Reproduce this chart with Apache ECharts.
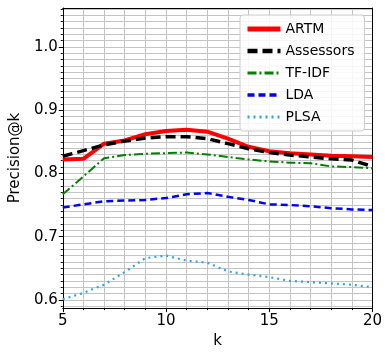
<!DOCTYPE html>
<html>
<head>
<meta charset="utf-8">
<script src="https://cdn.jsdelivr.net/npm/echarts@6/dist/echarts.min.js"></script>
<style>
  html, body { margin: 0; padding: 0; background: #fff; }
  #chart { width: 385px; height: 354px; }
</style>
</head>
<body>
<div id="chart"></div>
<script>
const kValues = [5, 6, 7, 8, 9, 10, 11, 12, 13, 14, 15, 16, 17, 18, 19, 20]
const artm = [0.822, 0.823, 0.847, 0.852, 0.862, 0.867, 0.869, 0.866, 0.855, 0.842, 0.835, 0.832, 0.830, 0.828, 0.827, 0.826]
const assessors = [0.827, 0.836, 0.845, 0.851, 0.856, 0.858, 0.858, 0.855, 0.847, 0.839, 0.833, 0.829, 0.826, 0.823, 0.821, 0.811]
const tfidf = [0.767, 0.795, 0.824, 0.829, 0.831, 0.832, 0.833, 0.830, 0.826, 0.822, 0.819, 0.817, 0.816, 0.811, 0.810, 0.808]
const lda = [0.746, 0.751, 0.756, 0.757, 0.758, 0.761, 0.767, 0.769, 0.763, 0.758, 0.751, 0.750, 0.748, 0.745, 0.743, 0.742]
const plsa = [0.601, 0.611, 0.624, 0.644, 0.666, 0.670, 0.662, 0.659, 0.645, 0.640, 0.636, 0.630, 0.628, 0.626, 0.624, 0.620]

const yTicks = [0.6, 0.7, 0.8, 0.9, 1.0]

// minor grid every 0.01
const yMinor = []
for (let i = 59; i <= 106; i++) yMinor.push(i / 100)

const font = 'DejaVu Sans'
const yMin = 0.587
const yMax = 1.0615

const pairs = (vals) => kValues.map((k, i) => [k, vals[i]])

const chart = echarts.init(document.getElementById('chart'), null, { renderer: 'canvas' })

const styles = {
  ARTM: { color: '#ff0000', width: 4, type: 'solid' },
  Assessors: { color: '#000000', width: 3.5, type: [10, 5] },
  'TF-IDF': { color: '#008000', width: 2, type: [9, 3, 2, 3] },
  LDA: { color: '#0000ff', width: 2.5, type: [7, 4] },
  PLSA: { color: '#2ea3f2', width: 2.2, type: [2, 4] },
}

const lineSeries = (name, vals) => ({
  name,
  type: 'line',
  data: pairs(vals),
  symbol: 'none',
  xAxisIndex: 0,
  yAxisIndex: 0,
  lineStyle: { ...styles[name], cap: 'butt' },
  itemStyle: { color: styles[name].color },
  animation: false,
})

chart.setOption({
  backgroundColor: '#fff',
  animation: false,
  grid: { left: 53, right: 10, top: 8, bottom: 33 },
  legend: {
    orient: 'vertical',
    left: 240,
    top: 15,
    itemWidth: 33,
    itemHeight: 14,
    itemGap: 8,
    padding: [7, 10, 7, 5],
    borderColor: '#cccccc',
    borderWidth: 1,
    borderRadius: 3,
    backgroundColor: 'rgba(255,255,255,0.85)',
    itemStyle: { color: 'transparent', borderColor: 'transparent', borderWidth: 0, opacity: 0 },
    textStyle: { fontFamily: font, fontSize: 14, color: '#000' },
    data: Object.keys(styles).map((name) => ({
      name,
      lineStyle: { ...styles[name], width: styles[name].width + 1, cap: 'butt' },
    })),
  },
  xAxis: [
    {
      type: 'value',
      min: 5,
      max: 20,
      interval: 1,
      position: 'bottom',
      axisLine: { lineStyle: { color: '#000', width: 1 } },
      axisTick: { length: 2, lineStyle: { color: '#000' } },
      axisLabel: { show: false },
      splitLine: { show: true, lineStyle: { color: '#c4c4c4', width: 1 } },
    },
    {
      type: 'value',
      min: 5,
      max: 20,
      interval: 5,
      position: 'bottom',
      name: 'k',
      nameLocation: 'middle',
      nameGap: 23,
      nameTextStyle: { fontFamily: font, fontSize: 15, color: '#000' },
      axisLine: { show: false },
      axisTick: { length: 4, lineStyle: { color: '#000' } },
      axisLabel: { margin: 6, fontFamily: font, fontSize: 15, color: '#000' },
      splitLine: { show: false },
    },
    {
      type: 'value',
      min: 5,
      max: 20,
      position: 'top',
      axisLine: { lineStyle: { color: '#000', width: 1 } },
      axisTick: { show: false },
      axisLabel: { show: false },
      splitLine: { show: false },
    },
  ],
  yAxis: [
    {
      type: 'value',
      min: yMin,
      max: yMax,
      position: 'left',
      axisLine: { show: true, lineStyle: { color: '#000', width: 1 } },
      axisTick: { show: true, length: 2, customValues: yMinor, lineStyle: { color: '#000' } },
      axisLabel: { show: false },
      splitLine: { show: true, lineStyle: { color: '#c4c4c4', width: 1 } },
    },
    {
      type: 'value',
      min: yMin,
      max: yMax,
      position: 'left',
      name: 'Precision@k',
      nameLocation: 'middle',
      nameGap: 36,
      nameTextStyle: { fontFamily: font, fontSize: 15, color: '#000' },
      axisLine: { show: false },
      axisTick: { show: true, length: 4, customValues: yTicks, lineStyle: { color: '#000' } },
      axisLabel: {
        customValues: yTicks,
        margin: 5,
        fontFamily: font,
        fontSize: 15,
        color: '#000',
        formatter: (v) => v.toFixed(1),
      },
      splitLine: { show: false },
    },
    {
      type: 'value',
      min: yMin,
      max: yMax,
      position: 'right',
      axisLine: { show: true, lineStyle: { color: '#000', width: 1 } },
      axisTick: { show: false },
      axisLabel: { show: false },
      splitLine: { show: false },
    },
  ],
  series: [
    lineSeries('ARTM', artm),
    lineSeries('Assessors', assessors),
    lineSeries('TF-IDF', tfidf),
    lineSeries('LDA', lda),
    lineSeries('PLSA', plsa),
  ],
})
</script>
</body>
</html>
